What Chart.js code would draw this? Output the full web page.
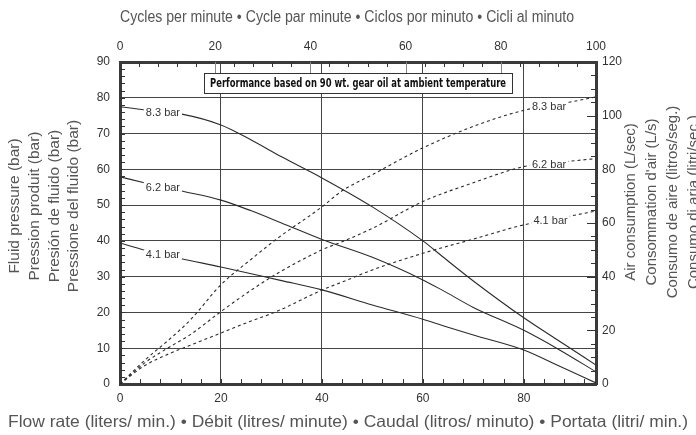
<!DOCTYPE html>
<html>
<head>
<meta charset="utf-8">
<script src="https://cdn.jsdelivr.net/npm/chart.js@4"></script>
<style>
  body { margin: 0; background: #fff; }
  canvas { display: block; }
</style>
</head>
<body>
<canvas id="pumpChart" width="696" height="435"></canvas>
<script>
// flow rate (l/min) points
const flowSolid = [0, 5, 12, 20, 26, 32, 40, 50, 60, 64, 70, 80, 87, 94.3];
const pressure83 = [77.5, 76.6, 75.5, 72.4, 68.2, 63.5, 57.6, 49.5, 40.0, 35.5, 28.8, 18.5, 12.0, 5.3];
const pressure62 = [57.9, 56.2, 54.0, 51.4, 48.4, 45.0, 40.4, 35.4, 29.1, 26.1, 21.4, 15.0, 9.6, 3.4];
const pressure41 = [39.4, 37.4, 35.1, 32.7, 30.8, 28.9, 26.3, 22.1, 18.1, 16.3, 13.7, 9.5, 5.0, 0.3];

const flowAir = [0, 5, 10, 14, 20, 26, 31, 40, 44, 50, 60, 70, 80, 89, 94.3];
const air83 = [0, 9, 17, 24, 37, 46.5, 54, 66, 72, 78, 88, 96, 102, 105, 107];
const air62 = [0, 8, 14, 18.5, 27, 35, 41, 50, 53, 58, 68, 75, 81, 83, 84];
const air41 = [0, 7, 11.5, 14.5, 19, 23.5, 27, 35, 38, 42.5, 48.7, 54, 59.3, 62.5, 64.5];

const flowMax = 94.3;
const cyclesMax = 100;
const pressureMax = 90;
const airMax = 120;

const topTitle = 'Cycles per minute \u2022 Cycle par minute \u2022 Ciclos por minuto \u2022 Cicli al minuto';
const bottomTitle = 'Flow rate (liters/ min.) \u2022 D\u00e9bit (litres/ minute) \u2022 Caudal (litros/ minuto) \u2022 Portata (litri/ min.)';
const leftTitle = ['Fluid pressure (bar)', 'Pression produit (bar)', 'Presi\u00f3n de fluido (bar)', 'Pressione del fluido (bar)'];
const rightTitle = ['Air consumption (L/sec)', 'Consommation d\'air (L/s)', 'Consumo de aire (litros/seg.)', 'Consumo di aria (litri/sec.)'];
const noteText = 'Performance based on 90 wt. gear oil at ambient temperature';

const INK = '#2b2b2b';
const FONT = '"Liberation Sans", Arial, sans-serif';

function pts(xs, ys) {
    return xs.map((x, i) => ({ x: x, y: ys[i] }));
}

function valueAt(xs, ys, x) {
    for (let i = 1; i < xs.length; i++) {
        if (x <= xs[i]) {
            const t = (x - xs[i - 1]) / (xs[i] - xs[i - 1]);
            return ys[i - 1] + t * (ys[i] - ys[i - 1]);
        }
    }
    return ys[ys.length - 1];
}

function curve(label, xs, ys, axis, dashed, labelAt) {
    return {
        label: label,
        data: pts(xs, ys),
        xs: xs, ys: ys, labelAt: labelAt,
        xAxisID: 'x',
        yAxisID: axis,
        borderColor: INK,
        borderWidth: 1.1,
        borderDash: dashed ? [3, 3] : [],
        pointRadius: 0,
        fill: false,
        cubicInterpolationMode: 'monotone'
    };
}

// little ticks pointing into the plot
const innerTicks = {
    id: 'innerTicks',
    afterDatasetsDraw(chart) {
        const ctx = chart.ctx;
        const a = chart.chartArea;
        const s = chart.scales;
        ctx.save();
        ctx.lineWidth = 1;
        ctx.strokeStyle = '#333';
        ctx.beginPath();
        for (let v = 4; v < flowMax; v += 4) {
            const px = Math.round(s.x.getPixelForValue(v)) + 0.5;
            ctx.moveTo(px, a.bottom); ctx.lineTo(px, a.bottom - 5);
        }
        for (let v = 2; v < pressureMax; v += 2) {
            const py = Math.round(s.y.getPixelForValue(v)) + 0.5;
            ctx.moveTo(a.left, py); ctx.lineTo(a.left + 5, py);
        }
        for (let v = 5; v < airMax; v += 5) {
            const py = Math.round(s.y2.getPixelForValue(v)) + 0.5;
            const len = v % 20 === 0 ? 9 : 5;
            ctx.moveTo(a.right, py); ctx.lineTo(a.right - len, py);
        }
        for (let v = 4; v < cyclesMax; v += 4) {
            if (v % 20 === 0) continue;
            const px = Math.round(s.x2.getPixelForValue(v)) + 0.5;
            ctx.moveTo(px, a.top); ctx.lineTo(px, a.top + 5);
        }
        ctx.stroke();
        ctx.strokeStyle = '#888';
        ctx.beginPath();
        for (let v = 20; v < cyclesMax; v += 20) {
            const px = Math.round(s.x2.getPixelForValue(v)) + 0.5;
            ctx.moveTo(px, a.top); ctx.lineTo(px, a.top + 12);
        }
        ctx.stroke();
        ctx.restore();
    }
};

// "8.3 bar" style labels sitting in a gap of each curve
const curveLabels = {
    id: 'curveLabels',
    afterDatasetsDraw(chart) {
        const ctx = chart.ctx;
        ctx.save();
        ctx.font = '11px ' + FONT;
        ctx.textAlign = 'center';
        ctx.textBaseline = 'middle';
        chart.data.datasets.forEach(ds => {
            const xScale = chart.scales[ds.xAxisID];
            const yScale = chart.scales[ds.yAxisID];
            const px = xScale.getPixelForValue(ds.labelAt);
            const py = yScale.getPixelForValue(valueAt(ds.xs, ds.ys, ds.labelAt));
            const w = ctx.measureText(ds.label).width;
            ctx.fillStyle = '#fff';
            ctx.fillRect(px - w / 2 - 2, py - 5, w + 4, 10);
            ctx.fillStyle = '#333';
            ctx.fillText(ds.label, px, py + 1);
        });
        ctx.restore();
    }
};

// draw text squeezed or stretched to a given width
function fitText(ctx, text, cx, cy, width) {
    const k = width / ctx.measureText(text).width;
    ctx.save();
    ctx.translate(cx, cy);
    ctx.scale(k, 1);
    ctx.fillText(text, 0, 0);
    ctx.restore();
}

const titlesAndNote = {
    id: 'titlesAndNote',
    afterDraw(chart) {
        const ctx = chart.ctx;
        const a = chart.chartArea;
        ctx.save();
        ctx.fillStyle = '#555';
        ctx.textAlign = 'center';
        ctx.textBaseline = 'middle';
        ctx.font = '15.8px ' + FONT;
        fitText(ctx, topTitle, 347, 18, 454);
        ctx.font = '16.5px ' + FONT;
        fitText(ctx, bottomTitle, 348, 422, 680);

        ctx.font = '15.5px ' + FONT;
        ctx.save();
        ctx.translate(0, 206);
        ctx.rotate(-Math.PI / 2);
        leftTitle.forEach((t, i) => ctx.fillText(t, 0, 15 + i * 19.7));
        ctx.restore();

        ctx.font = '15px ' + FONT;
        ctx.save();
        ctx.translate(0, 202);
        ctx.rotate(-Math.PI / 2);
        rightTitle.forEach((t, i) => ctx.fillText(t, 0, 631 + i * 21));
        ctx.restore();

        // boxed note
        const boxW = 308;
        const cx = (a.left + a.right) / 2;
        const top = a.top + 11;
        ctx.fillStyle = '#fff';
        ctx.fillRect(cx - boxW / 2, top, boxW, 20);
        ctx.strokeStyle = '#333';
        ctx.lineWidth = 1;
        ctx.strokeRect(Math.round(cx - boxW / 2) + 0.5, top + 0.5, boxW, 20);
        ctx.fillStyle = '#111';
        ctx.font = 'bold 12px "Liberation Sans Narrow", "DejaVu Sans Condensed", sans-serif';
        fitText(ctx, noteText, cx, top + 10.5, 296);
        ctx.restore();
    }
};

const tickFont = { family: FONT, size: 12 };
const border = { display: true, width: 3, color: '#3a3a3a' };

new Chart(document.getElementById('pumpChart'), {
    type: 'line',
    data: {
        datasets: [
            curve('8.3 bar', flowSolid, pressure83, 'y', false, 8.5),
            curve('6.2 bar', flowSolid, pressure62, 'y', false, 8.5),
            curve('4.1 bar', flowSolid, pressure41, 'y', false, 8.5),
            curve('8.3 bar', flowAir, air83, 'y2', true, 85),
            curve('6.2 bar', flowAir, air62, 'y2', true, 85),
            curve('4.1 bar', flowAir, air41, 'y2', true, 85.3)
        ]
    },
    options: {
        responsive: false,
        animation: false,
        devicePixelRatio: 1,
        layout: { padding: 0 },
        plugins: {
            legend: { display: false },
            title: { display: false },
            tooltip: { enabled: false }
        },
        scales: {
            x: {
                type: 'linear', position: 'bottom',
                min: 0, max: flowMax,
                afterFit: s => { s.height = 51; },
                ticks: { stepSize: 20, includeBounds: false, padding: 7, color: '#333', font: tickFont },
                grid: { color: '#444', lineWidth: 1, drawTicks: false },
                border: border
            },
            x2: {
                type: 'linear', position: 'top',
                min: 0, max: cyclesMax,
                afterFit: s => { s.height = 62; },
                ticks: { stepSize: 20, padding: 8, color: '#333', font: tickFont },
                grid: { display: false, drawTicks: false },
                border: border
            },
            y: {
                type: 'linear', position: 'left',
                min: 0, max: pressureMax,
                afterFit: s => { s.width = 120; },
                ticks: { stepSize: 10, padding: 10, color: '#333', font: tickFont },
                grid: { color: '#444', lineWidth: 1, drawTicks: false },
                border: border
            },
            y2: {
                type: 'linear', position: 'right',
                min: 0, max: airMax,
                afterFit: s => { s.width = 100; },
                ticks: { stepSize: 20, padding: 6, color: '#333', font: tickFont },
                grid: { display: false, drawTicks: false },
                border: border
            }
        }
    },
    plugins: [innerTicks, curveLabels, titlesAndNote]
});
</script>
</body>
</html>
